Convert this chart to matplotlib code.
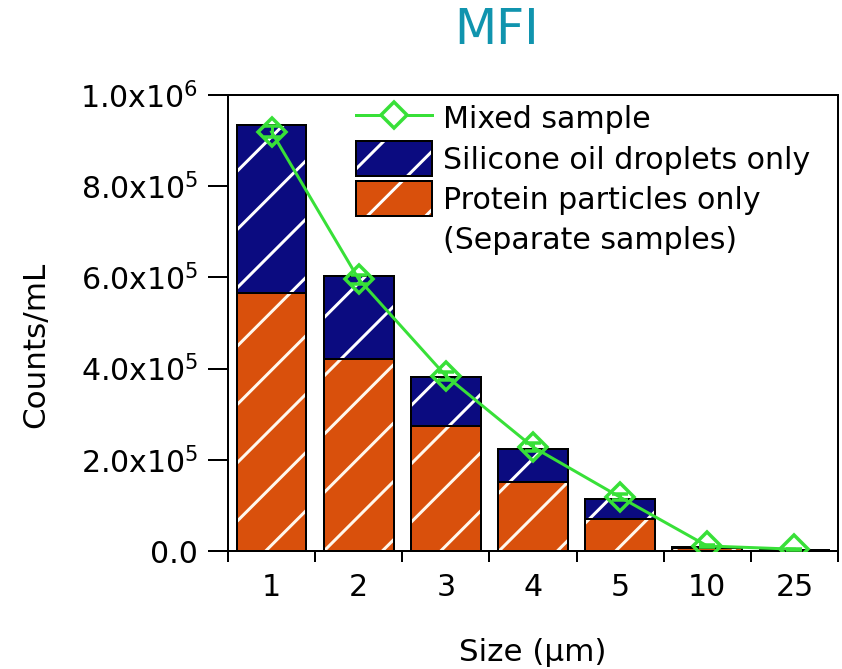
import matplotlib
matplotlib.use("Agg")
import matplotlib.pyplot as plt
import numpy as np
from matplotlib.patches import Patch, Rectangle
from matplotlib.lines import Line2D
from matplotlib.legend_handler import HandlerBase

categories = ["1", "2", "3", "4", "5", "10", "25"]
protein = [566000, 421000, 274000, 151000, 70000, 6000, 1000]
silicone = [368000, 182000, 108000, 73000, 44000, 2000, 500]
mixed = [919000, 596000, 384000, 228000, 118000, 11000, 4000]
mixed_err = [12000, 10000, 9000, 8000, 6000, 2000, 1000]
yticks = [0, 2e5, 4e5, 6e5, 8e5, 1e6]
ytick_labels = ["0.0", r"2.0x10$^{5}$", r"4.0x10$^{5}$", r"6.0x10$^{5}$",
                r"8.0x10$^{5}$", r"1.0x10$^{6}$"]
legend_labels = ["Mixed sample", "Silicone oil droplets only",
                 "Protein particles only", "(Separate samples)"]

blue = "#0b0b80"
orange = "#d9500c"
green = "#38e038"
title_color = "#1094ae"

DPI = 175
W, H = 842, 669


def pt(px):
    return px * 72.0 / DPI


plt.rcParams['font.family'] = ['DejaVu Sans']
plt.rcParams['mathtext.fontset'] = 'dejavusans'
plt.rcParams['hatch.linewidth'] = pt(3.0)

fig = plt.figure(figsize=((W + 0.01) / DPI, (H + 0.01) / DPI), dpi=DPI)
L, R, T, B = 228, 838, 95, 551
ax = fig.add_axes([L / W, 1 - B / H, (R - L) / W, (B - T) / H])

x = np.arange(len(categories))
w = 0.8
ax.bar(x, protein, w, color=orange, edgecolor="#fff8ee", hatch="/", linewidth=0, zorder=2)
ax.bar(x, silicone, w, bottom=protein, color=blue, edgecolor="white", hatch="/",
       linewidth=0, zorder=2)
ax.bar(x, protein, w, fill=False, edgecolor="black", linewidth=pt(2), zorder=3)
ax.bar(x, silicone, w, bottom=protein, fill=False, edgecolor="black",
       linewidth=pt(2), zorder=3)

ax.errorbar(x, mixed, yerr=mixed_err, color=green, lw=pt(3), capsize=pt(8),
            capthick=pt(2.5), marker="D", markersize=pt(20), markerfacecolor="none",
            markeredgecolor=green, markeredgewidth=pt(3.5), zorder=4)

ax.set_xlim(-0.5, len(categories) - 0.5)
ax.set_ylim(0, 1e6)
ax.set_yticks(yticks)
ax.set_yticklabels(ytick_labels)
ax.set_xticks(np.arange(-0.5, len(categories), 1.0))
ax.set_xticklabels([])
ax.set_xticks(x, minor=True)
ax.set_xticklabels(categories, minor=True)
ax.tick_params(axis="x", which="minor", length=0, pad=pt(22), labelsize=pt(30))
ax.tick_params(axis="x", which="major", direction="out", length=pt(11), width=pt(2))
ax.tick_params(axis="y", direction="out", length=pt(20), width=pt(2),
               labelsize=pt(30), pad=pt(10))
for s in ax.spines.values():
    s.set_linewidth(pt(2))

ax.set_xlabel("Size (µm)", fontsize=pt(31))
ax.xaxis.set_label_coords(0.5, -(638 - B) / (B - T))
ax.set_ylabel("Counts/mL", fontsize=pt(31))
ax.yaxis.set_label_coords(-(L - 50) / (R - L), (B - 345) / (B - T))

fig.text(497 / W, 1 - 30 / H, "MFI", color=title_color, fontsize=pt(49),
         ha="center", va="center")


class HatchBox(HandlerBase):
    def create_artists(self, legend, orig_handle, xdescent, ydescent, width,
                       height, fontsize, trans):
        fc = orig_handle.get_facecolor()
        r1 = Rectangle((-xdescent, -ydescent), width, height, facecolor=fc,
                       edgecolor="white", hatch="/", linewidth=0, transform=trans)
        r2 = Rectangle((-xdescent, -ydescent), width, height, fill=False,
                       edgecolor="black", linewidth=pt(2), transform=trans)
        return [r1, r2]


h_line = Line2D([], [], color=green, lw=pt(3), marker="D", markersize=pt(19),
                markerfacecolor="white", markeredgecolor=green,
                markeredgewidth=pt(3.5))
h_blue = Patch(facecolor=blue)
h_orange = Patch(facecolor=orange)
h_empty = Patch(facecolor="none", edgecolor="none")
fs = pt(30)
leg = ax.legend([h_line, h_blue, h_orange, h_empty], legend_labels,
                handler_map={h_blue: HatchBox(), h_orange: HatchBox()},
                loc="upper left", bbox_to_anchor=((356 - L) / (R - L), 1 - 6 / (B - T)),
                frameon=False, fontsize=fs, handlelength=76 / 30, handleheight=1.42,
                handletextpad=11 / 30, labelspacing=0.17, borderpad=0,
                borderaxespad=0)

fig.savefig("out.png", dpi=DPI)
